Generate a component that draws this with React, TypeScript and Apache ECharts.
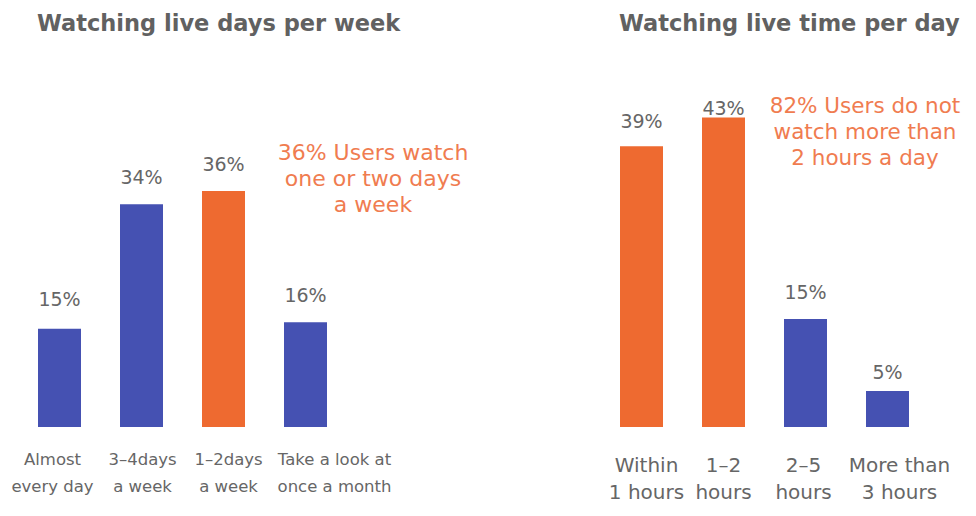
import React, { useEffect, useRef } from "react";
import * as echarts from "echarts";

const daysCategories = ["Almost\nevery day", "3–4days\na week", "1–2days\na week", "Take a look at\nonce a month"];
const daysValues = [15, 34, 36, 16];
const daysHighlight = [false, false, true, false];

const timeCategories = ["Within\n1 hours", "1–2\nhours", "2–5\nhours", "More than\n3 hours"];
const timeValues = [39, 43, 15, 5];
const timeHighlight = [true, true, false, false];

const titles = ["Watching live days per week", "Watching live time per day"];
const notes = ["36% Users watch\none or two days\na week", "82% Users do not\nwatch more than\n2 hours a day"];

const BLUE = "#4551b2";
const ORANGE = "#ee6a30";
const NOTE = "#f07c50";
const FONT = "'DejaVu Sans', sans-serif";

// horizontal nudges of the category labels relative to their bars (layout only)
const daysLabelShift = [-7, 1, 5, 29];
const timeLabelShift = [5, 0, -2, 12];

export default function App() {
  const ref = useRef<HTMLDivElement>(null);
  useEffect(() => {
    if (!ref.current) return;
    const chart = echarts.init(ref.current, undefined, { renderer: "svg" });
    const mkData = (vals: number[], hl: boolean[], dist: number[]) =>
      vals.map((v, i) => ({
        value: v,
        itemStyle: { color: hl[i] ? ORANGE : BLUE },
        label: { distance: dist[i] },
      }));
    const mkCats = (cats: string[], shift: number[]) =>
      cats.map((c, i) => ({
        value: c,
        textStyle: {
          padding: shift[i] >= 0 ? [0, 0, 0, shift[i] * 2] : [0, -shift[i] * 2, 0, 0],
        },
      }));
    const label = {
      show: true,
      position: "top",
      distance: 16,
      formatter: "{c}%",
      color: "#666",
      fontSize: 19,
      fontFamily: FONT,
    };
    const titleStyle = { color: "#616161", fontSize: 22.5, fontWeight: "bold", fontFamily: FONT };
    chart.setOption({
      animation: false,
      backgroundColor: "#fff",
      textStyle: { fontFamily: FONT },
      title: [
        { text: titles[0], left: 32, top: 6, textStyle: titleStyle },
        { text: titles[1], left: 614, top: 6, textStyle: titleStyle },
      ],
      grid: [
        { left: 18.5, width: 328, top: 60, bottom: 89 },
        { left: 600.5, width: 328, top: 60, bottom: 89 },
      ],
      xAxis: [
        {
          type: "category",
          gridIndex: 0,
          data: mkCats(daysCategories, daysLabelShift),
          axisLine: { show: false },
          axisTick: { show: false },
          axisLabel: { color: "#666", fontSize: 16.5, lineHeight: 27, margin: 19, interval: 0, fontFamily: FONT },
        },
        {
          type: "category",
          gridIndex: 1,
          data: mkCats(timeCategories, timeLabelShift),
          axisLine: { show: false },
          axisTick: { show: false },
          axisLabel: { color: "#666", fontSize: 20, lineHeight: 27, margin: 24, interval: 0, fontFamily: FONT },
        },
      ],
      yAxis: [
        { type: "value", gridIndex: 0, min: 0, max: 56, show: false, splitLine: { show: false } },
        { type: "value", gridIndex: 1, min: 0, max: 51, show: false, splitLine: { show: false } },
      ],
      series: [
        {
          type: "bar",
          xAxisIndex: 0,
          yAxisIndex: 0,
          barWidth: 43,
          data: mkData(daysValues, daysHighlight, [20, 18, 18, 18]),
          label,
        },
        {
          type: "bar",
          xAxisIndex: 1,
          yAxisIndex: 1,
          barWidth: 43,
          data: mkData(timeValues, timeHighlight, [16, 0, 18, 10]),
          label,
        },
      ],
      graphic: [
        {
          type: "text",
          x: 373,
          y: 139,
          style: {
            text: notes[0],
            fill: NOTE,
            fontSize: 22,
            lineHeight: 26,
            align: "center",
            fontFamily: FONT,
          },
        },
        {
          type: "text",
          x: 865,
          y: 92,
          style: {
            text: notes[1],
            fill: NOTE,
            fontSize: 21.5,
            lineHeight: 26,
            align: "center",
            fontFamily: FONT,
          },
        },
      ],
    });
    return () => chart.dispose();
  }, []);
  return <div ref={ref} style={{ width: 976, height: 516, margin: -8 }} />;
}
